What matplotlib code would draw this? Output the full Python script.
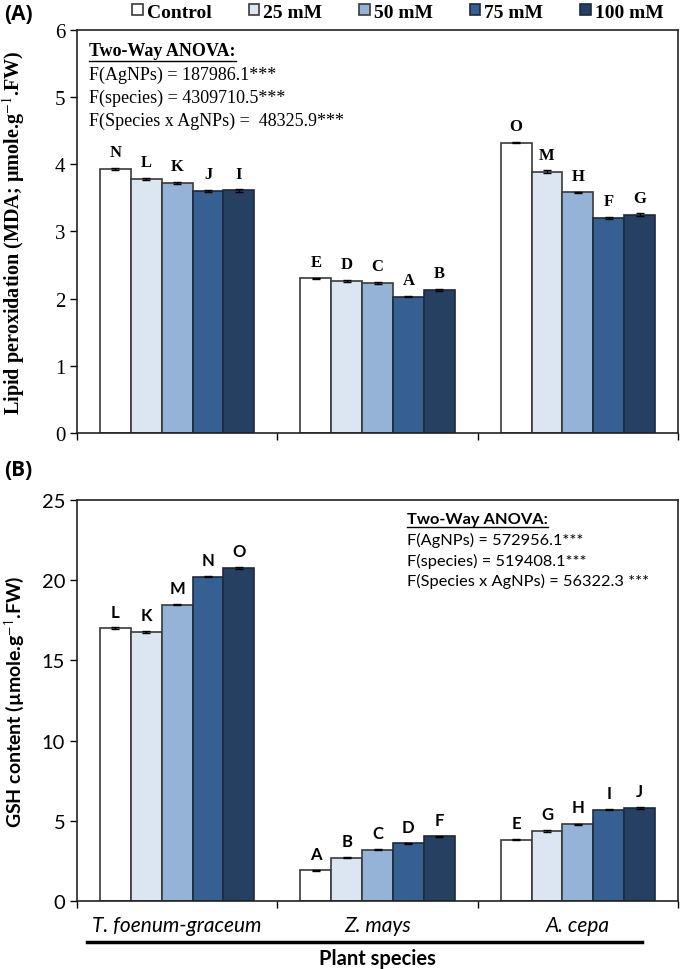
import matplotlib
matplotlib.use('Agg')
import matplotlib.pyplot as plt
from matplotlib.lines import Line2D
import numpy as np

# Data
species = ['T. foenum-graceum', 'Z. mays', 'A. cepa']
treatments = ['Control', '25 mM', '50 mM', '75 mM', '100 mM']
colors = ['#ffffff', '#dce6f2', '#95b3d7', '#376092', '#254061']

# (A) lipid peroxidation, rows = treatments, cols = species
mda = [[3.93, 2.30, 4.32],
       [3.78, 2.26, 3.89],
       [3.72, 2.23, 3.58],
       [3.60, 2.03, 3.20],
       [3.61, 2.13, 3.25]]
mda_err = [[0.01, 0.01, 0.01],
           [0.02, 0.01, 0.02],
           [0.01, 0.01, 0.01],
           [0.02, 0.01, 0.02],
           [0.02, 0.02, 0.02]]
mda_letters = [['N', 'E', 'O'],
               ['L', 'D', 'M'],
               ['K', 'C', 'H'],
               ['J', 'A', 'F'],
               ['I', 'B', 'G']]

# (B) GSH content
gsh = [[16.99, 1.93, 3.84],
       [16.76, 2.72, 4.38],
       [18.46, 3.22, 4.80],
       [20.20, 3.61, 5.69],
       [20.76, 4.04, 5.83]]
gsh_err = [[0.05, 0.03, 0.04],
           [0.05, 0.04, 0.04],
           [0.05, 0.04, 0.04],
           [0.05, 0.04, 0.04],
           [0.06, 0.05, 0.06]]
gsh_letters = [['L', 'A', 'E'],
               ['K', 'B', 'G'],
               ['M', 'C', 'H'],
               ['N', 'D', 'I'],
               ['O', 'F', 'J']]

anova_a = ['F(AgNPs) = 187986.1***',
           'F(species) = 4309710.5***',
           'F(Species x AgNPs) =  48325.9***']
anova_b = ['F(AgNPs) = 572956.1***',
           'F(species) = 519408.1***',
           'F(Species x AgNPs) = 56322.3 ***']

W, H = 685, 970
SERIF = 'Liberation Serif'
SANS = 'Lato'

fig = plt.figure(figsize=(W / 100, H / 100), dpi=100)


def fx(px):
    return px / W


def fy(py):
    return 1 - py / H


axA = fig.add_axes([fx(77), fy(434), fx(678) - fx(77), fy(30.8) - fy(434)])
axB = fig.add_axes([fx(77), fy(902.3), fx(678) - fx(77), fy(500.5) - fy(902.3)])

bw = 0.154
xc = np.arange(len(species)) + 0.5


def draw_bars(ax, vals, errs, letters, family, lsize, loff):
    for i in range(len(treatments)):
        x = xc + (i - 2) * bw
        dark = i >= 3
        ax.bar(x, vals[i], bw, color=colors[i],
               edgecolor='#1c2b3f' if dark else '#3a3a3a', linewidth=1.2,
               label=treatments[i], zorder=2)
        ax.errorbar(x, vals[i], yerr=errs[i], fmt='none', ecolor='black',
                    elinewidth=1, capsize=3, capthick=1, zorder=3)
        for j in range(len(species)):
            ax.annotate(letters[i][j], (x[j], vals[i][j]),
                        xytext=(0, loff), textcoords='offset points',
                        ha='center', va='center', fontsize=lsize,
                        fontweight='bold', family=family)
    ax.set_xlim(0, 3)
    ax.set_xticks([0, 1, 2, 3])
    ax.tick_params(axis='both', direction='out', length=5, width=1)
    for s in ax.spines.values():
        s.set_linewidth(1.2)
        s.set_color('#222222')


# Panel A
draw_bars(axA, mda, mda_err, mda_letters, SERIF, 12, 12)
axA.set_ylim(0, 6)
axA.set_yticks(range(0, 7))
axA.set_xticklabels([])
for lab in axA.get_yticklabels():
    lab.set_family(SERIF)
    lab.set_fontsize(15)
axA.set_ylabel('Lipid peroxidation (MDA; µmole.g$^{-1}$.FW)',
               family=SERIF, fontsize=14.5, fontweight='bold',
               math_fontfamily='stix')
axA.yaxis.set_label_coords(-0.083, 0.5)

# Panel B
draw_bars(axB, gsh, gsh_err, gsh_letters, SANS, 12, 12)
axB.set_ylim(0, 25)
axB.set_yticks(range(0, 26, 5))
axB.set_xticks(xc, minor=True)
axB.set_xticklabels([])
axB.set_xticklabels(species, minor=True, style='italic', family=SANS, fontsize=15)
axB.tick_params(axis='x', which='minor', length=0, pad=10)
for lab in axB.get_yticklabels():
    lab.set_family(SANS)
    lab.set_fontsize(14.5)
axB.set_ylabel('GSH content (µmole.g$^{-1}$.FW)',
               family=SANS, fontsize=14, fontweight='bold',
               math_fontfamily='stixsans')
axB.yaxis.set_label_coords(-0.083, 0.5)

# underline bar and axis title under species names
fig.add_artist(Line2D([fx(87), fx(642)], [fy(943), fy(943)], color='black', lw=2.5))
fig.text(fx(377), fy(959), 'Plant species', family=SANS, fontsize=14.5,
         fontweight='bold', ha='center', va='center')

# panel letters
fig.text(fx(4), fy(14), '(A)', family='Open Sans', fontsize=15, fontweight='bold', va='center')
fig.text(fx(4), fy(471), '(B)', family='Open Sans', fontsize=15, fontweight='bold', va='center')

# legend
handles, labels = axA.get_legend_handles_labels()
leg = fig.legend(handles, labels, ncol=5, loc='center', bbox_to_anchor=(fx(398), fy(13)),
                 frameon=False, prop={'family': SERIF, 'weight': 'bold', 'size': 14},
                 handlelength=0.55, handleheight=0.55, handletextpad=0.2,
                 columnspacing=1.9, borderpad=0)

# ANOVA boxes
renderer = fig.canvas.get_renderer()


def anova(x, y, lines, family, size, step):
    t = fig.text(fx(x), fy(y), 'Two-Way ANOVA:', family=family, fontsize=size,
                 fontweight='bold', va='center')
    bb = t.get_window_extent(renderer)
    yl = bb.y0 - 1
    fig.add_artist(Line2D([bb.x0 / W, bb.x1 / W], [yl / H, yl / H], color='black', lw=1))
    for k, s in enumerate(lines):
        fig.text(fx(x), fy(y + step * (k + 1)), s, family=family, fontsize=size, va='center')


anova(89, 52, anova_a, SERIF, 13, 23)
anova(407, 520, anova_b, SANS, 11.8, 20.5)

fig.savefig('out.png', dpi=100)
